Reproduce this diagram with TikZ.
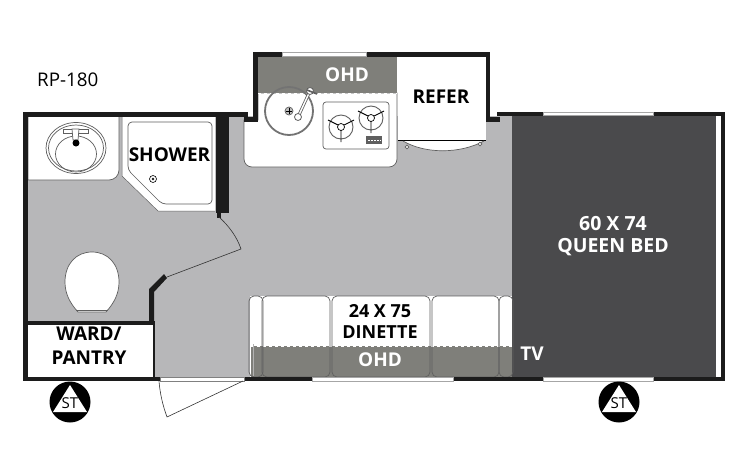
\documentclass[tikz,border=0pt]{standalone}
\usepackage{fontspec}
\setmainfont{Open Sans}
\usepackage{tikz}
\usetikzlibrary{calc}
\definecolor{myfloor}{RGB}{183, 183, 185}
\definecolor{mybed}{RGB}{74, 74, 76}
\definecolor{myohd}{RGB}{127, 127, 122}
\definecolor{mywall}{RGB}{28, 28, 28}
\definecolor{myedge}{RGB}{95, 95, 95}
\tikzset{
  wall/.style = {fill = mywall},
  edge/.style = {draw = myedge, line width = 0.7pt},
  glass/.style = {fill = white, draw = gray!70, line width = 0.5pt},
  darklabel/.style = {font = \bfseries\fontsize{19}{23.5}\selectfont, text = black, align = center, inner sep = 0pt},
  lightlabel/.style = {font = \bfseries\fontsize{19}{22}\selectfont, text = white, align = center, inner sep = 0pt}
}
\newcommand{\burner}[2]{
\draw[edge, line width = 0.9pt] (#1, #2) circle (12);
\fill[white, draw = black, line width = 0.7pt] (#1, #2) circle (3.5);
\draw[black, line width = 0.9pt] (#1, #2 + 3) -- (#1, #2 + 15) (#1 - 3, #2 - 2) -- (#1 - 13, #2 - 7) (#1 + 3, #2 - 2) -- (#1 + 13, #2 - 7);
}
\begin{document}
\begin{tikzpicture}[x = 1pt, y = -1pt]

\useasboundingbox (0, 0) rectangle (731, 469);

% floor and bed
\fill[myfloor] (28, 116) rectangle (513, 378);
\fill[mybed] (512, 116) rectangle (716, 378);
\fill[white] (716, 116) rectangle (721, 378);

% galley
\draw[edge, fill = white] (258, 93) -- (397, 93) [rounded corners = 8pt] -- (397, 167) -- (244, 167) [sharp corners] -- (244, 120) -- (258, 120) -- cycle;
\fill[myohd] (258, 57) rectangle (397, 93);
\draw[white, dashed, line width = 0.6pt] (258, 93) -- (397, 93);
\draw[black!55, line width = 1.8pt] (289, 111) circle (24);
\draw[myedge, fill = gray!50, line width = 0.7pt] (289, 111) circle (4);
\draw[black, line width = 0.4pt] (289, 108) -- (289, 114) (286, 111) -- (292, 111);
\draw[myedge, line width = 3pt] (298, 117) -- (310, 91);
\draw[white, line width = 1.4pt] (298, 117) -- (310, 91);
\draw[myedge, fill = white, line width = 0.8pt] (298, 117) circle (3.5) (310, 91) circle (3.5);
\draw[myedge, line width = 1.6pt] (307, 90) -- (317, 94);
\draw[edge, rounded corners = 3pt] (323, 102) rectangle (389, 149);
\burner{341}{127}
\burner{371}{118}
\fill[myedge] (366, 136) rectangle (382, 144);
\draw[white, line width = 0.5pt, dash pattern = on 1.5pt off 1.5pt] (368, 140) -- (381, 140);

% refer
\fill[white] (398, 57) rectangle (486, 140);
\draw[black, line width = 0.7pt] (398, 140) -- (486, 140);
\draw[edge, fill = white] (403, 141) .. controls (425, 154) and (460, 154) .. (484, 141);
\draw[edge, fill = white] (407, 147) circle (1.8) (480, 144) circle (1.8);

% bath counter and basin
\draw[edge, fill = white] (28, 116) -- (28, 180) [rounded corners = 10pt] -- (119, 180) [sharp corners] -- (119, 116);
\draw[myedge, line width = 0.7pt] (76, 148) ellipse (30 and 25.5) (76, 148) ellipse (27.5 and 23);
\draw[myedge, line width = 0.7pt] (76, 154) ellipse (20.5 and 18);
\draw[myedge, fill = white, line width = 0.7pt] (63, 129) rectangle (88, 133);
\draw[myedge, fill = white, line width = 0.7pt] (72, 129) -- (79, 129) -- (78, 140) -- (73, 140) -- cycle;
\fill[black] (76, 143) circle (3.5);

% shower
\fill[white] (122, 116) -- (215, 116) -- (215, 211) -- (158, 211) -- (122, 176) -- cycle;
\draw[myedge, line width = 0.5pt] (122, 116) -- (122, 176) -- (158, 211) -- (215, 211);
\draw[edge, rounded corners = 4pt] (128, 122) -- (212, 122) -- (212, 204) -- (162, 204) -- (128, 170) -- cycle;
\draw[black, line width = 0.6pt] (153, 179) circle (3.5) (153, 179) circle (1);

% toilet
\draw[edge, fill = white] (78, 312) .. controls (70, 303) and (65, 294) .. (65, 282) .. controls (65, 264) and (76, 252) .. (92, 252) .. controls (108, 252) and (119, 264) .. (119, 282) .. controls (119, 294) and (114, 303) .. (106, 312) -- cycle;
\draw[edge, line width = 0.5pt] (76, 310) -- (108, 310);

% ward
\fill[white] (28, 325) rectangle (153, 378);

% dinette
\fill[white] (250, 296) rectangle (512, 377);
\fill[myohd] (251, 346) rectangle (512, 377);
\draw[white, dashed, line width = 0.5pt] (251, 346) -- (512, 346);
\foreach \xa/\xb in {249/263, 262/330, 332/430, 432/499, 499/513}
{
\draw[edge, rounded corners = 5pt] (\xa, 296) rectangle (\xb, 377);
}
\draw[gray!60, line width = 0.8pt] (253, 344) -- (253, 376);

% walls
\fill[wall] (23, 112) rectangle (248, 117);
\fill[wall] (23, 112) rectangle (28, 381);
\fill[wall] (497, 112) rectangle (725, 116);
\fill[wall] (721, 112) rectangle (725, 381);
\fill[wall] (23, 377) rectangle (160, 381);
\fill[wall] (244, 377) rectangle (725, 381);
\fill[wall] (23, 321) rectangle (155, 325);
\fill[wall] (153, 321) rectangle (155, 378);
\fill[wall] (216, 116) rectangle (229, 213);
\fill[wall] (217, 213) rectangle (221, 218);
\fill[wall] (149, 322) -- (149, 289) -- (164, 274) -- (167, 278) -- (154, 292) -- (154, 322) -- cycle;
\fill[wall] (253, 52) rectangle (490, 57);
\fill[wall] (253, 52) rectangle (258, 122);
\fill[wall] (244, 117) rectangle (258, 122);
\fill[wall] (486, 52) rectangle (490, 122);
\fill[wall] (486, 117) rectangle (500, 122);

% windows
\draw[glass] (282, 52.5) rectangle (366, 56);
\draw[glass] (543, 112.5) rectangle (653, 115.5);
\draw[glass] (543, 377.5) rectangle (653, 381);
\draw[glass] (312, 377.5) rectangle (453, 381);

% doors
\draw[gray, line width = 0.5pt, fill = white] (160, 377) rectangle (244, 381);
\draw[black!80, line width = 0.6pt] (243, 381) -- (167, 417) .. controls (163, 406) and (160, 394) .. (159, 381);
\draw[black!80, line width = 0.6pt] (219, 217) .. controls (229, 226) and (237, 237) .. (241, 249) -- (167, 277);

% stabilizers
\foreach \xc in {70, 619}
{
\begin{scope}[xshift = \xc pt]
\fill[black] (0, 402) circle (20.5);
\fill[white] (0, 385) -- (17, 412) -- (-17, 412) -- cycle;
\end{scope}
}
\node[font = \fontsize{15}{16}\selectfont, inner sep = 0pt] (stleft) at (70, 403) {ST};
\node[font = \fontsize{15}{16}\selectfont, inner sep = 0pt] (stright) at (619, 403) {ST};

% labels
\node[font = \fontsize{18.8}{20}\selectfont, anchor = west, inner sep = 0pt] (model) at (37, 80) {RP-180};
\node[lightlabel] (ohdtop) at (347, 74.5) {OHD};
\node[darklabel] (refer) at (441, 97) {REFER};
\node[darklabel] (shower) at (169.5, 155) {SHOWER};
\node[darklabel] (ward) at (89, 345.5) {WARD/\\PANTRY};
\node[darklabel, font = \bfseries\fontsize{18}{21}\selectfont] (dinette) at (380, 321.5) {24 X 75\\DINETTE};
\node[lightlabel] (ohdlow) at (380, 360) {OHD};
\node[lightlabel] (tv) at (532, 354) {TV};
\node[lightlabel, font = \bfseries\fontsize{19.5}{22}\selectfont] (bed) at (613, 236.5) {60 X 74\\QUEEN BED};

\end{tikzpicture}
\end{document}
